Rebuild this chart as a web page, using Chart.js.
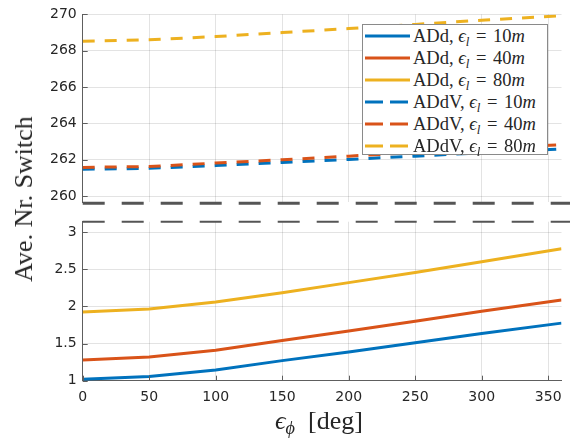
<!DOCTYPE html>
<html>
<head>
<meta charset="utf-8">
<script src="https://cdn.jsdelivr.net/npm/chart.js@4.4.0/dist/chart.umd.min.js"></script>
<style>
body { margin: 0; background: #fff; }
#wrap { position: relative; width: 570px; height: 439px; overflow: hidden; }
#wrap canvas { position: absolute; left: 0; top: 0; }
.serif { position: absolute; white-space: nowrap; color: #262626; font-family: "Liberation Serif", "DejaVu Serif", serif; }
#ytitle { font-size: 26px; left: 24px; top: 199px; transform: translate(-50%, -50%) rotate(-90deg); }
#xtitle { font-size: 26px; left: 319px; top: 421px; transform: translate(-50%, -50%); }
#legend { position: absolute; left: 362px; top: 24px; width: 184px; height: 129px; border: 1px solid #8a8a8a; background: #fff; }
.row { position: absolute; left: 0; width: 184px; height: 22px; }
.row svg { position: absolute; left: 2px; top: 0; }
.row span.t { position: absolute; left: 50px; top: 0; font-size: 18.5px; line-height: 22px; }
.row span.eq { padding: 0 2px; }
i { font-style: italic; }
sub { font-size: 0.7em; vertical-align: -0.3em; line-height: 0; }
</style>
</head>
<body>
<div id="wrap">
  <canvas id="topChart" width="570" height="439"></canvas>
  <canvas id="bottomChart" width="570" height="439"></canvas>
  <div id="legend"></div>
  <div id="ytitle" class="serif">Ave. Nr. Switch</div>
  <div id="xtitle" class="serif"><i>ϵ</i><sub><i>ϕ</i></sub>&nbsp; [deg]</div>
</div>
<script>
// valeurs (x = epsilon_phi en degrés)
const degs = [0, 50, 100, 150, 200, 250, 300, 360];

// ADd (échelle du bas)
const add10 = [1.02, 1.055, 1.145, 1.27, 1.385, 1.51, 1.635, 1.775];
const add40 = [1.28, 1.32, 1.41, 1.54, 1.67, 1.80, 1.935, 2.085];
const add80 = [1.925, 1.965, 2.06, 2.185, 2.32, 2.455, 2.60, 2.775];

// ADdV (échelle du haut)
const addv10 = [261.48, 261.53, 261.68, 261.85, 262.02, 262.2, 262.38, 262.6];
const addv40 = [261.58, 261.63, 261.82, 262.0, 262.2, 262.4, 262.6, 262.83];
const addv80 = [268.52, 268.6, 268.78, 269.0, 269.22, 269.45, 269.68, 269.93];

const methods = ["ADd", "ADd", "ADd", "ADdV", "ADdV", "ADdV"];
const epsL = ["10", "40", "80", "10", "40", "80"];

const colors = ["#0072BD", "#D95319", "#EDB120"];
const gridColor = "rgba(0,0,0,0.11)";
const axisColor = "#5e5e5e";
const tickFont = { family: "DejaVu Sans", size: 14 };

function pts(ys) {
    return degs.map((d, k) => ({ x: d, y: ys[k] }));
}

// petites graduations vers l'intérieur + ligne de coupure
function makeDeco(isTop) {
    return {
        id: "deco" + (isTop ? "Top" : "Bottom"),
        afterDraw(chart) {
            const ctx = chart.ctx;
            const a = chart.chartArea;
            ctx.save();
            ctx.strokeStyle = axisColor;
            ctx.lineWidth = 1;
            ctx.setLineDash([]);
            const ys = chart.scales.y;
            ys.ticks.forEach(t => {
                const p = Math.round(ys.getPixelForValue(t.value)) + 0.5;
                ctx.beginPath();
                ctx.moveTo(a.left, p);
                ctx.lineTo(a.left + 5, p);
                ctx.stroke();
            });
            if (!isTop) {
                const xs = chart.scales.x;
                xs.ticks.forEach(t => {
                    const p = Math.round(xs.getPixelForValue(t.value)) + 0.5;
                    ctx.beginPath();
                    ctx.moveTo(p, a.bottom);
                    ctx.lineTo(p, a.bottom - 5);
                    ctx.stroke();
                });
            }
            ctx.strokeStyle = "#555";
            ctx.setLineDash([22, 17]);
            ctx.lineWidth = isTop ? 3 : 2;
            const yb = isTop ? a.bottom + 1 : a.top;
            ctx.beginPath();
            ctx.moveTo(a.left, yb);
            ctx.lineTo(chart.width, yb);
            ctx.stroke();
            ctx.restore();
        }
    };
}

function lineSet(label, ys, color, dashed, order) {
    return {
        label: label,
        data: pts(ys),
        borderColor: color,
        borderWidth: 3,
        borderDash: dashed ? [12, 10] : [],
        pointRadius: 0,
        tension: 0,
        fill: false,
        order: order,
    };
}

function baseOptions(isTop) {
    return {
        responsive: false,
        animation: false,
        layout: {
            padding: isTop
                ? { left: 12.7, right: 8.5, top: 10, bottom: 236.7 }
                : { left: 12.7, right: 8.5, top: 221.7, bottom: 28.3 },
        },
        scales: {
            x: {
                type: "linear",
                min: 0,
                max: 360,
                afterFit: s => { s.height = isTop ? 0 : 30; },
                ticks: {
                    display: !isTop,
                    stepSize: 50,
                    includeBounds: false,
                    color: "#262626",
                    font: tickFont,
                    padding: 8,
                    maxRotation: 0,
                    callback: v => String(v),
                },
                grid: { color: gridColor, drawTicks: false },
                border: { display: !isTop, color: axisColor, width: 1 },
            },
            y: {
                min: isTop ? 259.66 : 1,
                max: isTop ? 270 : 3.14,
                afterFit: s => { s.width = 70; },
                ticks: {
                    stepSize: isTop ? 2 : 0.5,
                    includeBounds: false,
                    color: "#262626",
                    font: tickFont,
                    padding: 6,
                    callback: v => String(v),
                },
                grid: { color: gridColor, drawTicks: false },
                border: { color: axisColor, width: 1 },
            },
        },
        plugins: {
            legend: { display: false },
            tooltip: { enabled: false },
        },
    };
}

let topChartCan = document.getElementById("topChart").getContext("2d");
var topChart = new Chart(topChartCan, {
    type: "line",
    data: {
        datasets: [
            lineSet("ADdV 10m", addv10, colors[0], true, 3),
            lineSet("ADdV 40m", addv40, colors[1], true, 2),
            lineSet("ADdV 80m", addv80, colors[2], true, 1),
        ],
    },
    options: baseOptions(true),
    plugins: [makeDeco(true)],
});

let bottomChartCan = document.getElementById("bottomChart").getContext("2d");
var bottomChart = new Chart(bottomChartCan, {
    type: "line",
    data: {
        datasets: [
            lineSet("ADd 10m", add10, colors[0], false, 3),
            lineSet("ADd 40m", add40, colors[1], false, 2),
            lineSet("ADd 80m", add80, colors[2], false, 1),
        ],
    },
    options: baseOptions(false),
    plugins: [makeDeco(false)],
});

// légende en HTML (indices et italiques)
const legend = document.getElementById("legend");
methods.forEach((m, k) => {
    const row = document.createElement("div");
    row.className = "row";
    row.style.top = (k * 22) + "px";
    const dash = k >= 3 ? 'stroke-dasharray="18 7"' : "";
    row.innerHTML =
        '<svg width="46" height="22"><line x1="0" y1="11" x2="45" y2="11" stroke="' + colors[k % 3] +
        '" stroke-width="3" ' + dash + '/></svg>' +
        '<span class="t serif">' + m + ', <i>ϵ</i><sub><i>l</i></sub> <span class="eq">=</span> ' + epsL[k] + '<i>m</i></span>';
    legend.appendChild(row);
});
</script>
</body>
</html>
